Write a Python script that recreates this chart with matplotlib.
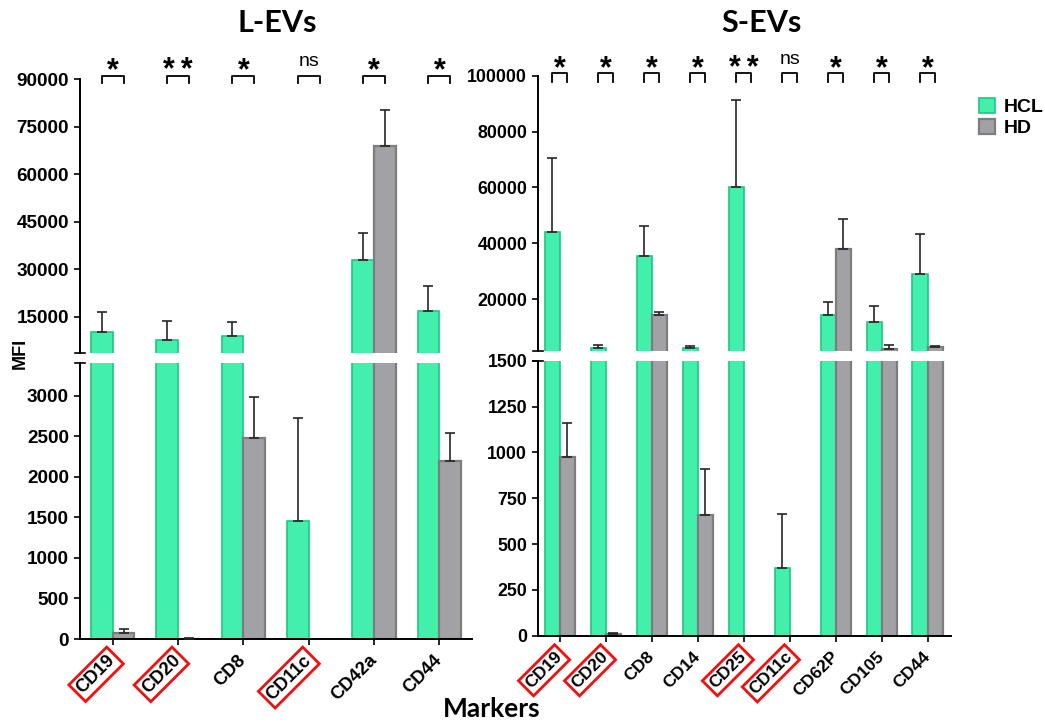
import numpy as np
import matplotlib
matplotlib.use("Agg")
import matplotlib.pyplot as plt
from matplotlib.patches import Patch
from matplotlib.transforms import blended_transform_factory

# ---------------- data ----------------
l_markers = ["CD19", "CD20", "CD8", "CD11c", "CD42a", "CD44"]
l_boxed = ["CD19", "CD20", "CD11c"]
l_hcl = [10000, 7500, 9000, 1450, 33000, 16900]
l_hcl_err = [6500, 6100, 4400, 1280, 8500, 7900]
l_hd = [80, 5, 2480, np.nan, 69000, 2200]
l_hd_err = [40, 5, 500, np.nan, 11300, 335]
l_sig = ["*", "**", "*", "ns", "*", "*"]

s_markers = ["CD19", "CD20", "CD8", "CD14", "CD25", "CD11c", "CD62P", "CD105", "CD44"]
s_boxed = ["CD19", "CD20", "CD25", "CD11c"]
s_hcl = [44000, 2300, 35500, 2400, 60000, 370, 14300, 11900, 29000]
s_hcl_err = [26500, 1300, 10700, 900, 31300, 292, 4500, 5500, 14250]
s_hd = [975, 8, 14300, 660, np.nan, np.nan, 38000, 2100, 2800]
s_hd_err = [187, 8, 1100, 250, np.nan, np.nan, 10600, 1300, 500]
s_sig = ["*", "*", "*", "*", "**", "ns", "*", "*", "*"]

# axis segments (broken y axis)
l_upper_lim = (3400, 90000)
l_upper_ticks = [15000, 30000, 45000, 60000, 75000, 90000]
l_lower_lim = (0, 3400)
l_lower_ticks = [0, 500, 1000, 1500, 2000, 2500, 3000]

s_upper_lim = (1500, 100000)
s_upper_ticks = [20000, 40000, 60000, 80000, 100000]
s_lower_lim = (0, 1500)
s_lower_ticks = [0, 250, 500, 750, 1000, 1250, 1500]

# ---------------- style ----------------
HCL_FILL, HCL_EDGE = "#42f0ac", "#1cc784"
HD_FILL, HD_EDGE = "#a2a2a6", "#7d7d7d"
TITLE_FONT = "Lato"

plt.rcParams["font.family"] = ["Liberation Sans", "DejaVu Sans"]
plt.rcParams["font.weight"] = "bold"

fig = plt.figure(figsize=(10.45, 7.25), dpi=100)


def style_axis(ax, fs):
    for s in ["top", "right"]:
        ax.spines[s].set_visible(False)
    for s in ["left", "bottom"]:
        ax.spines[s].set_linewidth(1.4)
    ax.tick_params(axis="both", width=1.2, length=4.5, labelsize=fs)


def break_mark(ax, ypos):
    ax.plot([-0.012, 0.012], [ypos, ypos], transform=ax.transAxes,
            color="black", lw=1.2, clip_on=False)


def draw_bars(ax, x, hcl, hcl_err, hd, hd_err, w, floor):
    hcl = np.asarray(hcl, float)
    hd = np.asarray(hd, float)
    hcl_err = np.asarray(hcl_err, float)
    hd_err = np.asarray(hd_err, float)
    ekw = dict(fmt="none", ecolor="#262626", elinewidth=1.2, capsize=3.5,
               capthick=1.2, zorder=3)
    for xs, v, e, fc, ec, lw in ((x - w / 2, hcl, hcl_err, HCL_FILL, HCL_EDGE, 1.2),
                                 (x + w / 2, hd, hd_err, HD_FILL, HD_EDGE, 1.6)):
        ok = np.isfinite(v) & (v > floor)
        ax.bar(xs[ok], v[ok], w, color=fc, edgecolor=ec, lw=lw, zorder=2)
        ax.errorbar(xs[ok], v[ok], yerr=[np.zeros(ok.sum()), e[ok]], **ekw)


def panel(rect_up, rect_lo, markers, boxed, hcl, hcl_err, hd, hd_err, sig,
          up_lim, up_ticks, lo_lim, lo_ticks, xlim, w, fs, xfs,
          br_lo, br_hi, star_y):
    x = np.arange(len(markers), dtype=float)
    ax_up = fig.add_axes(rect_up)
    ax_lo = fig.add_axes(rect_lo)
    draw_bars(ax_up, x, hcl, hcl_err, hd, hd_err, w, up_lim[0])
    draw_bars(ax_lo, x, hcl, hcl_err, hd, hd_err, w, 0)
    for ax in (ax_up, ax_lo):
        ax.set_xlim(*xlim)

    ax_up.set_ylim(*up_lim)
    ax_up.set_yticks(up_ticks)
    ax_up.set_yticklabels([str(t) for t in up_ticks])
    ax_up.spines["bottom"].set_visible(False)
    ax_up.set_xticks([])
    style_axis(ax_up, fs)
    break_mark(ax_up, 0.0)

    ax_lo.set_ylim(*lo_lim)
    ax_lo.set_yticks(lo_ticks)
    ax_lo.set_yticklabels([str(t) for t in lo_ticks])
    ax_lo.set_xticks(x)
    ax_lo.set_xticklabels(markers, rotation=45, ha="right", va="center",
                          rotation_mode="anchor")
    style_axis(ax_lo, fs)
    ax_lo.tick_params(axis="x", pad=9, labelsize=xfs)
    break_mark(ax_lo, 1.0)
    for lab in ax_lo.get_xticklabels():
        if lab.get_text() in boxed:
            lab.set_bbox(dict(boxstyle="square,pad=0.18", fc="white",
                              ec="#ee1111", lw=2.0))

    # significance brackets above each marker pair
    tr = blended_transform_factory(ax_up.transData, ax_up.transAxes)
    for xi, s in zip(x, sig):
        ax_up.plot([xi - w / 2, xi - w / 2, xi + w / 2, xi + w / 2],
                   [br_lo, br_hi, br_hi, br_lo], transform=tr, color="black",
                   lw=1.3, clip_on=False)
        if s == "ns":
            ax_up.text(xi, star_y + 0.005, s, transform=tr, ha="center",
                       va="center", fontsize=14, fontweight="normal")
        else:
            ax_up.text(xi, star_y - 0.03, "\u2009".join(s), transform=tr,
                       ha="center", va="center", fontsize=22, fontweight="bold")
    return ax_up, ax_lo


panel([0.0766, 0.5127, 0.3751, 0.3779], [0.0766, 0.1186, 0.3751, 0.3803],
      l_markers, l_boxed, l_hcl, l_hcl_err, l_hd, l_hd_err, l_sig,
      l_upper_lim, l_upper_ticks, l_lower_lim, l_lower_ticks,
      (-0.5, 5.5), 0.333, 13.6, 13.2, 0.985, 1.013, 1.059)

panel([0.5151, 0.5163, 0.3946, 0.3793], [0.5151, 0.1232, 0.3946, 0.3793],
      s_markers, s_boxed, s_hcl, s_hcl_err, s_hd, s_hd_err, s_sig,
      s_upper_lim, s_upper_ticks, s_lower_lim, s_lower_ticks,
      (-0.47, 8.5), 0.33, 12.8, 12.6, 0.978, 1.0087, 1.054)

fig.text(0.2651, 0.9559, "L-EVs", ha="center", va="baseline",
         fontsize=22, fontweight="bold", fontfamily=TITLE_FONT)
fig.text(0.7282, 0.9559, "S-EVs", ha="center", va="baseline",
         fontsize=22, fontweight="bold", fontfamily=TITLE_FONT)
fig.text(0.4703, 0.011, "Markers", ha="center", va="baseline",
         fontsize=19, fontweight="bold", fontfamily=TITLE_FONT)
fig.text(0.0195, 0.513, "MFI", ha="center", va="center", rotation=90,
         fontsize=13, fontweight="bold")

fig.legend(handles=[Patch(fc=HCL_FILL, ec=HCL_EDGE, lw=1.2),
                    Patch(fc=HD_FILL, ec=HD_EDGE, lw=1.6)],
           labels=["HCL", "HD"], loc="upper left",
           bbox_to_anchor=(0.9368, 0.8645), frameon=False, borderpad=0,
           borderaxespad=0, handlelength=0.8, handleheight=0.8,
           handletextpad=0.45, labelspacing=0.12,
           prop=dict(weight="bold", size=14))

fig.savefig("out.png", dpi=100)
